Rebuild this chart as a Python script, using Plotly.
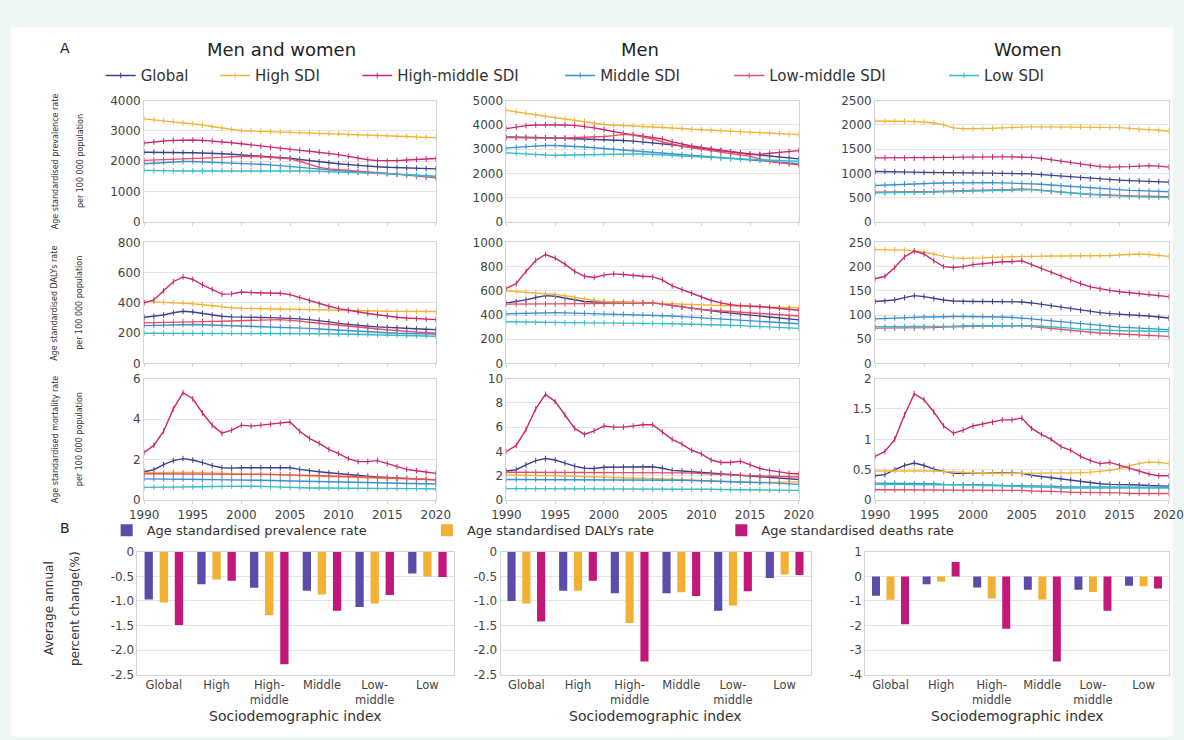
import plotly.graph_objects as go

W, H = 1184, 740
K = 0.98  # the photographed page comes out shrunk about its centre; positions below are target pixels
def fx(p): return (W / 2 + (p - W / 2) / K) / W
def fy(p): return 1 - (H / 2 + (p - H / 2) / K) / H

YEARS = list(range(1990, 2021))
SERIES = ["Global", "High SDI", "High-middle SDI", "Middle SDI", "Low-middle SDI", "Low SDI"]
LINE_COLORS = ["#3b3f8f", "#f2b53a", "#c8286e", "#3d8fd0", "#e0506a", "#3bbac8"]
MARK_COLORS = ["#25286a", "#d0951c", "#7e1444", "#25649c", "#a82c48", "#238896"]

# ---- Row 1: prevalence ----
mw_prev = [
    [2300,2300,2290,2290,2285,2280,2275,2270,2250,2230,2210,2190,2170,2150,2120,2100,2060,2020,1980,1950,1920,1890,1860,1840,1820,1800,1790,1780,1770,1760,1750],
    [3400,3370,3340,3300,3270,3240,3200,3150,3100,3050,3010,3000,2990,2980,2970,2960,2950,2940,2930,2920,2910,2900,2880,2860,2850,2840,2830,2820,2800,2790,2780],
    [2600,2640,2670,2690,2700,2700,2690,2670,2640,2610,2580,2540,2500,2460,2420,2390,2360,2330,2300,2260,2220,2160,2100,2050,2020,2010,2020,2040,2060,2080,2090],
    [1920,1940,1960,1980,1990,1990,1980,1970,1960,1950,1940,1920,1900,1880,1850,1820,1790,1760,1730,1710,1690,1670,1650,1630,1610,1590,1570,1550,1530,1510,1500],
    [2030,2040,2050,2060,2070,2080,2090,2110,2130,2150,2160,2160,2150,2130,2110,2080,2000,1900,1800,1750,1720,1690,1660,1640,1620,1600,1570,1540,1500,1470,1450],
    [1700,1690,1680,1680,1680,1680,1680,1690,1700,1700,1700,1700,1700,1700,1700,1700,1690,1680,1670,1660,1650,1640,1630,1620,1610,1600,1580,1560,1540,1520,1500],
]
men_prev = [
    [3500,3500,3490,3480,3470,3460,3450,3440,3430,3420,3400,3380,3360,3330,3300,3270,3230,3180,3130,3080,3040,2990,2940,2890,2850,2800,2760,2720,2680,2640,2600],
    [4600,4550,4480,4420,4360,4300,4250,4200,4150,4080,4020,4000,3980,3960,3950,3940,3920,3880,3850,3820,3800,3780,3760,3740,3720,3700,3680,3660,3640,3620,3600],
    [3850,3920,3970,4000,4010,4010,4000,3980,3940,3880,3800,3720,3650,3600,3550,3500,3420,3300,3200,3130,3070,3010,2950,2880,2820,2780,2790,2820,2860,2900,2940],
    [3050,3080,3110,3140,3150,3150,3140,3120,3090,3060,3030,3000,2970,2940,2900,2860,2830,2800,2780,2750,2720,2690,2660,2630,2600,2580,2550,2520,2480,2440,2400],
    [3480,3470,3460,3450,3450,3450,3460,3470,3480,3500,3520,3560,3610,3580,3500,3420,3300,3200,3120,3060,3000,2940,2880,2820,2760,2700,2600,2500,2440,2400,2350],
    [2850,2820,2800,2780,2760,2750,2760,2770,2780,2790,2800,2800,2800,2800,2800,2790,2770,2750,2720,2700,2680,2650,2620,2600,2580,2560,2540,2530,2520,2510,2500],
]
women_prev = [
    [1040,1040,1035,1030,1025,1020,1020,1015,1010,1010,1010,1005,1005,1000,1000,1000,990,975,960,945,930,910,890,880,870,860,850,845,840,830,820],
    [2080,2080,2080,2075,2070,2060,2040,2000,1940,1920,1920,1925,1930,1940,1950,1960,1960,1960,1960,1960,1960,1960,1955,1950,1950,1945,1930,1910,1900,1890,1870],
    [1320,1320,1315,1315,1315,1320,1320,1325,1330,1335,1340,1340,1340,1340,1340,1340,1330,1310,1280,1250,1220,1190,1160,1140,1130,1130,1140,1150,1160,1150,1130],
    [750,760,770,780,785,790,795,800,805,810,810,810,810,805,800,800,790,775,760,745,730,715,700,685,670,660,650,645,640,630,620],
    [610,610,612,615,618,620,625,632,640,645,650,655,660,665,670,680,670,650,630,610,595,580,570,560,550,540,535,530,528,525,520],
    [600,600,602,605,608,612,616,622,630,636,642,648,654,660,666,672,664,646,628,610,594,578,565,552,540,530,522,515,510,505,500],
]
# ---- Row 2: DALYs ----
mw_daly = [
    [305,310,320,335,345,340,330,320,312,308,305,305,304,303,302,300,295,290,285,275,265,258,252,246,242,238,235,232,229,226,224],
    [410,408,405,402,400,395,388,380,374,368,365,364,363,362,361,360,359,358,357,356,355,353,351,349,347,345,344,344,344,343,343],
    [400,420,480,540,572,555,520,490,458,460,472,468,465,465,464,455,435,415,395,378,362,350,340,330,322,312,305,300,296,292,290],
    [250,252,254,256,258,258,256,254,252,250,250,248,246,244,242,240,236,232,228,224,220,216,212,208,205,202,200,198,196,195,194],
    [268,270,272,274,276,276,277,278,279,280,281,283,285,288,290,287,280,272,265,258,252,246,240,234,228,222,216,212,207,203,200],
    [200,200,200,200,200,200,200,200,200,200,200,200,200,200,200,200,199,198,197,196,195,194,193,192,191,190,188,186,184,182,180],
]
men_daly = [
    [500,510,525,545,560,555,540,525,512,508,510,508,506,504,502,500,490,478,466,454,442,432,424,416,408,400,392,384,376,368,360],
    [600,595,590,585,580,570,560,545,530,520,512,508,505,502,500,498,495,490,486,482,480,478,476,474,472,470,468,466,464,462,460],
    [620,660,760,850,900,870,820,760,720,710,730,740,735,725,720,715,690,640,610,580,545,520,500,485,478,475,470,462,455,448,440],
    [410,413,416,418,420,420,418,416,414,412,410,408,406,404,402,400,396,392,387,382,378,372,366,360,355,350,345,340,336,332,328],
    [490,490,490,490,490,490,490,490,490,490,490,492,494,496,498,500,490,478,466,456,446,440,434,428,424,420,414,408,402,396,392],
    [345,343,341,340,338,337,336,336,335,335,335,334,333,332,331,330,329,328,327,326,325,322,319,316,313,310,306,302,298,294,290],
]
women_daly = [
    [128,129,131,136,140,138,134,131,129,128,128,128,128,128,128,127,125,122,119,116,113,110,107,105,103,102,101,100,98,96,94],
    [235,235,235,234,233,230,226,221,218,217,217,218,219,220,220,221,221,222,222,222,222,222,222,222,223,224,225,226,225,223,221],
    [175,180,198,220,232,226,212,200,198,200,204,206,208,210,210,212,204,196,188,180,172,165,158,154,151,148,146,144,143,141,138],
    [92,93,94,95,96,96,96,97,97,97,97,97,96,96,95,94,92,90,88,86,84,82,80,78,76,75,74,73,72,71,70],
    [73,73,73,73,73,74,74,75,75,76,77,77,78,78,78,78,76,74,72,70,68,66,64,63,62,61,60,59,58,57,56],
    [76,76,76,76,76,76,76,77,77,78,78,78,79,79,79,79,78,77,76,75,73,71,70,69,68,68,67,67,67,67,66],
]
# ---- Row 3: mortality ----
mw_mort = [
    [1.40,1.50,1.75,1.95,2.05,1.98,1.85,1.70,1.60,1.58,1.60,1.60,1.60,1.60,1.60,1.60,1.52,1.45,1.40,1.35,1.30,1.26,1.22,1.18,1.15,1.12,1.10,1.07,1.05,1.02,1.00],
    [1.35,1.36,1.37,1.38,1.38,1.37,1.35,1.33,1.31,1.30,1.29,1.28,1.27,1.26,1.25,1.24,1.22,1.20,1.18,1.16,1.14,1.12,1.10,1.09,1.08,1.07,1.06,1.05,1.04,1.03,1.02],
    [2.35,2.70,3.40,4.50,5.30,5.00,4.30,3.70,3.30,3.45,3.70,3.65,3.70,3.75,3.80,3.85,3.40,3.05,2.80,2.50,2.30,2.05,1.90,1.90,1.95,1.80,1.65,1.52,1.45,1.38,1.32],
    [1.05,1.05,1.04,1.04,1.03,1.03,1.02,1.01,1.01,1.00,1.00,0.99,0.98,0.97,0.96,0.95,0.94,0.93,0.92,0.91,0.90,0.89,0.88,0.87,0.86,0.85,0.84,0.83,0.82,0.81,0.80],
    [1.30,1.30,1.30,1.30,1.30,1.30,1.30,1.30,1.30,1.30,1.30,1.29,1.28,1.27,1.26,1.25,1.24,1.23,1.22,1.21,1.20,1.18,1.16,1.14,1.12,1.10,1.08,1.06,1.04,1.02,1.00],
    [0.63,0.63,0.64,0.64,0.65,0.65,0.66,0.67,0.68,0.69,0.70,0.69,0.68,0.66,0.64,0.62,0.61,0.60,0.60,0.60,0.60,0.60,0.60,0.60,0.60,0.60,0.59,0.58,0.57,0.56,0.55],
]
men_mort = [
    [2.40,2.50,2.90,3.25,3.42,3.30,3.05,2.80,2.62,2.60,2.70,2.72,2.72,2.72,2.73,2.74,2.62,2.45,2.40,2.35,2.30,2.25,2.20,2.12,2.05,1.98,1.92,1.86,1.80,1.75,1.70],
    [2.05,2.05,2.04,2.03,2.02,2.00,1.98,1.96,1.94,1.92,1.90,1.88,1.86,1.84,1.82,1.80,1.76,1.72,1.68,1.64,1.60,1.56,1.52,1.49,1.47,1.46,1.46,1.47,1.48,1.49,1.50],
    [4.00,4.50,5.80,7.50,8.70,8.10,7.00,5.90,5.40,5.70,6.10,6.00,6.00,6.10,6.20,6.20,5.60,5.00,4.60,4.10,3.80,3.30,3.10,3.10,3.20,2.90,2.60,2.45,2.30,2.20,2.15],
    [1.70,1.70,1.70,1.70,1.70,1.70,1.70,1.70,1.70,1.70,1.70,1.70,1.70,1.70,1.70,1.70,1.68,1.66,1.64,1.62,1.60,1.58,1.56,1.54,1.52,1.50,1.46,1.42,1.38,1.34,1.30],
    [2.30,2.30,2.30,2.30,2.30,2.30,2.30,2.30,2.30,2.30,2.30,2.30,2.30,2.30,2.30,2.30,2.28,2.26,2.24,2.22,2.20,2.16,2.12,2.08,2.04,2.00,1.98,1.96,1.94,1.92,1.90],
    [0.95,0.95,0.95,0.95,0.95,0.95,0.95,0.95,0.95,0.95,0.95,0.94,0.93,0.92,0.91,0.90,0.90,0.90,0.90,0.90,0.90,0.89,0.88,0.87,0.86,0.85,0.84,0.83,0.82,0.81,0.80],
]
women_mort = [
    [0.40,0.42,0.50,0.57,0.61,0.57,0.51,0.47,0.44,0.44,0.45,0.45,0.45,0.45,0.45,0.44,0.41,0.39,0.37,0.35,0.33,0.31,0.28,0.27,0.26,0.26,0.25,0.25,0.24,0.23,0.23],
    [0.48,0.48,0.48,0.49,0.49,0.49,0.48,0.47,0.46,0.45,0.45,0.45,0.44,0.44,0.44,0.44,0.44,0.44,0.45,0.45,0.45,0.45,0.46,0.47,0.49,0.52,0.57,0.60,0.63,0.62,0.60],
    [0.72,0.80,1.00,1.40,1.75,1.65,1.45,1.22,1.10,1.15,1.22,1.25,1.28,1.32,1.32,1.35,1.18,1.08,1.00,0.88,0.82,0.72,0.65,0.60,0.62,0.57,0.52,0.47,0.43,0.40,0.40],
    [0.28,0.28,0.28,0.27,0.27,0.27,0.27,0.26,0.26,0.25,0.25,0.25,0.25,0.24,0.24,0.24,0.23,0.23,0.23,0.22,0.22,0.22,0.22,0.22,0.22,0.22,0.22,0.21,0.21,0.21,0.21],
    [0.17,0.17,0.17,0.17,0.17,0.17,0.17,0.17,0.17,0.17,0.17,0.17,0.17,0.17,0.17,0.16,0.15,0.15,0.14,0.14,0.13,0.13,0.12,0.12,0.12,0.12,0.11,0.11,0.11,0.11,0.11],
    [0.26,0.26,0.26,0.26,0.26,0.26,0.25,0.25,0.25,0.25,0.25,0.24,0.24,0.23,0.23,0.22,0.22,0.21,0.21,0.20,0.20,0.20,0.21,0.21,0.21,0.21,0.21,0.20,0.20,0.20,0.20],
]

# ---- Panel B: average annual percent change ----
SDI_CATS = ["Global", "High", "High-<br>middle", "Middle", "Low-<br>middle", "Low"]
BAR_NAMES = ["Age standardised prevalence rate", "Age standardised DALYs rate", "Age standardised deaths rate"]
BAR_COLORS = ["#5a4ca8", "#f2b134", "#c2187a"]
mw_aapc = [[-0.97,-0.66,-0.73,-0.79,-1.12,-0.44],
           [-1.03,-0.56,-1.29,-0.87,-1.05,-0.50],
           [-1.49,-0.59,-2.29,-1.20,-0.88,-0.51]]
men_aapc = [[-1.00,-0.79,-0.84,-0.84,-1.20,-0.53],
            [-1.05,-0.79,-1.45,-0.82,-1.09,-0.46],
            [-1.42,-0.59,-2.23,-0.90,-0.80,-0.47]]
women_aapc = [[-0.79,-0.32,-0.45,-0.54,-0.54,-0.38],
              [-0.95,-0.22,-0.90,-0.94,-0.63,-0.40],
              [-1.95,0.59,-2.13,-3.46,-1.40,-0.49]]

COL_TITLES = ["Men and women", "Men", "Women"]
YTITLES = [("Age standardised prevalence rate", "per 100 000 population"),
           ("Age standardised DALYs rate", "per 100 000 population"),
           ("Age standardised mortality rate", "per 100 000 population")]

FONT = "DejaVu Sans"
TICKC = "#444444"
GRID = "#e4e4e4"
LINEC = "#d4d4d4"

col_x = [(141.7, 435), (506, 800), (876.7, 1171.7)]
row_y = [(101, 222), (242.5, 363.5), (378.5, 500)]
bar_x = [(135, 453), (500, 811.7), (866.7, 1172)]
bar_y = (551.7, 674.3)

LINE_LEG_X = [98, 213, 356, 560, 730, 946]
BAR_LEG_X = [104, 426, 722]

panels = [[mw_prev, men_prev, women_prev],
          [mw_daly, men_daly, women_daly],
          [mw_mort, men_mort, women_mort]]
yranges = [[(0, 4000, 1000), (0, 5000, 1000), (0, 2500, 500)],
           [(0, 800, 200), (0, 1000, 200), (0, 250, 50)],
           [(0, 6, 2), (0, 10, 2), (0, 2, 0.5)]]

def legname(k):
    return "legend" if k == 1 else f"legend{k}"

fig = go.Figure()
layout = {}
ax = 0
for r in range(3):
    for c in range(3):
        ax += 1
        xa = "x" if ax == 1 else f"x{ax}"
        ya = "y" if ax == 1 else f"y{ax}"
        data = panels[r][c]
        for i, name in enumerate(SERIES):
            fig.add_trace(go.Scatter(
                x=YEARS, y=data[i], name=name, mode="lines+markers",
                line=dict(color=LINE_COLORS[i], width=1.4),
                marker=dict(symbol="line-ns-open", size=4,
                            line=dict(width=1, color=MARK_COLORS[i])),
                xaxis=xa, yaxis=ya, legend=legname(i + 1),
                showlegend=(ax == 1), hoverinfo="skip"))
        lo, hi, dt = yranges[r][c]
        x0, x1 = col_x[c]
        y0, y1 = row_y[r]
        layout["xaxis" if ax == 1 else f"xaxis{ax}"] = dict(
            domain=[fx(x0), fx(x1)], anchor=ya, range=[1990, 2020],
            tickvals=list(range(1990, 2021, 5)), showticklabels=(r == 2),
            ticks="outside", ticklen=3, tickcolor=LINEC, showgrid=False,
            showline=True, linecolor=LINEC, mirror=True, zeroline=False,
            tickfont=dict(family=FONT, size=12, color=TICKC))
        layout["yaxis" if ax == 1 else f"yaxis{ax}"] = dict(
            domain=[fy(y1), fy(y0)], anchor=xa, range=[lo, hi], dtick=dt,
            showgrid=True, gridcolor=GRID, showline=True, linecolor=LINEC,
            mirror=True, zeroline=False, ticks="",
            tickfont=dict(family=FONT, size=12, color=TICKC))

bar_sets = [mw_aapc, men_aapc, women_aapc]
bar_ranges = [(-2.5, 0, [0, -0.5, -1.0, -1.5, -2.0, -2.5], ["0", "-0.5", "-1.0", "-1.5", "-2.0", "-2.5"]),
              (-2.5, 0, [0, -0.5, -1.0, -1.5, -2.0, -2.5], ["0", "-0.5", "-1.0", "-1.5", "-2.0", "-2.5"]),
              (-4, 1, [1, 0, -1, -2, -3, -4], ["1", "0", "-1", "-2", "-3", "-4"])]
for c in range(3):
    ax += 1
    xa, ya = f"x{ax}", f"y{ax}"
    for k in range(3):
        fig.add_trace(go.Bar(
            x=SDI_CATS, y=bar_sets[c][k], name=BAR_NAMES[k],
            marker=dict(color=BAR_COLORS[k], line=dict(width=0)),
            xaxis=xa, yaxis=ya, legend=legname(7 + k),
            showlegend=(c == 0), hoverinfo="skip"))
    lo, hi, tv, tt = bar_ranges[c]
    x0, x1 = bar_x[c]
    layout[f"xaxis{ax}"] = dict(
        domain=[fx(x0), fx(x1)], anchor=ya, type="category",
        showgrid=False, showline=True, linecolor=LINEC, mirror=True,
        ticks="", tickfont=dict(family=FONT, size=11.5, color=TICKC))
    layout[f"yaxis{ax}"] = dict(
        domain=[fy(bar_y[1]), fy(bar_y[0])], anchor=xa, range=[lo, hi],
        tickvals=tv, ticktext=tt, showgrid=True, gridcolor=GRID,
        showline=True, linecolor=LINEC, mirror=True, zeroline=False,
        tickfont=dict(family=FONT, size=12, color=TICKC))

for k, xp in enumerate(LINE_LEG_X):
    layout[legname(k + 1)] = dict(
        orientation="h", x=fx(xp), y=fy(76), xanchor="left", yanchor="middle",
        bgcolor="rgba(0,0,0,0)", font=dict(family=FONT, size=15, color="#333"),
        itemwidth=30)
for k, xp in enumerate(BAR_LEG_X):
    layout[legname(7 + k)] = dict(
        orientation="h", x=fx(xp), y=fy(530), xanchor="left", yanchor="middle",
        bgcolor="rgba(0,0,0,0)", font=dict(family=FONT, size=13, color="#333"),
        itemwidth=30)

ann = []
title_x = [280, 640, 1030]
for c, t in enumerate(COL_TITLES):
    ann.append(dict(x=fx(title_x[c]), y=fy(50), text=t, showarrow=False,
                    xref="paper", yref="paper", xanchor="center", yanchor="middle",
                    font=dict(family=FONT, size=18, color="#222")))
for txt, px, py in (("A", 62, 48), ("B", 62, 528)):
    ann.append(dict(x=fx(px), y=fy(py), text=txt, showarrow=False, xref="paper", yref="paper",
                    xanchor="center", yanchor="middle",
                    font=dict(family=FONT, size=14, color="#222")))
for r, (l1, l2) in enumerate(YTITLES):
    yc = (row_y[r][0] + row_y[r][1]) / 2
    for xp, txt in ((52, l1), (77, l2)):
        ann.append(dict(x=fx(xp), y=fy(yc), text=txt, textangle=-90, showarrow=False,
                        xref="paper", yref="paper", xanchor="center", yanchor="middle",
                        font=dict(family=FONT, size=8, color="#333")))
for xp, txt in ((46, "Average annual"), (72, "percent change(%)")):
    ann.append(dict(x=fx(xp), y=fy(608), text=txt, textangle=-90, showarrow=False,
                    xref="paper", yref="paper", xanchor="center", yanchor="middle",
                    font=dict(family=FONT, size=12, color="#333")))
for c in range(3):
    xc = (bar_x[c][0] + bar_x[c][1]) / 2
    ann.append(dict(x=fx(xc), y=fy(716), text="Sociodemographic index", showarrow=False,
                    xref="paper", yref="paper", xanchor="center", yanchor="middle",
                    font=dict(family=FONT, size=14, color="#333")))

fig.update_layout(
    width=W, height=H, margin=dict(l=0, r=0, t=0, b=0),
    paper_bgcolor="#eef5f5", plot_bgcolor="white",
    barmode="group", bargap=0.14, bargroupgap=0.45,
    font=dict(family=FONT, color="#333"),
    annotations=ann,
    shapes=[dict(type="rect", xref="paper", yref="paper", x0=fx(8), x1=fx(1176),
                 y0=fy(736), y1=fy(28), fillcolor="white", line=dict(width=0), layer="below")],
    **layout,
)

fig.write_html("out.html")
